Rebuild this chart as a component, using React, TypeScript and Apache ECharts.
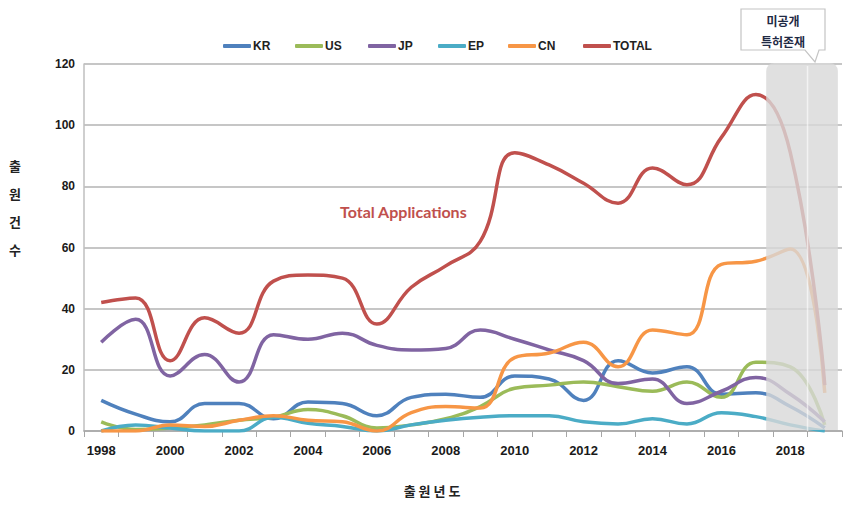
import React, { useEffect, useRef } from "react";
import * as echarts from "echarts";

const years = ["1998","1999","2000","2001","2002","2003","2004","2005","2006","2007","2008","2009","2010","2011","2012","2013","2014","2015","2016","2017","2018","2019"];
const KR = [10, 5.5, 3, 9, 9, 4, 9.5, 9, 5, 11, 12, 11, 18, 17, 10, 23, 19, 21, 12, 12.5, 8, 1];
const US = [3, 0.5, 1, 2, 3.5, 4.5, 7, 5, 1, 2, 4, 8, 14, 15, 16, 14.5, 13, 16, 11, 22.5, 21, 2];
const JP = [29, 36.5, 18, 25, 16, 31.5, 30, 32, 28, 26.5, 27, 33, 30, 26.5, 23, 15.5, 17, 9, 13, 17.5, 12, 3];
const EP = [0, 2, 1, 0, 0, 4.5, 2.5, 1.5, 0, 2, 3.5, 4.5, 5, 5, 3, 2.3, 4, 2.3, 6, 4.7, 2, 0];
const CN = [0, 0, 2, 1.5, 3.5, 5, 3.5, 3, 0, 6, 8, 7.5, 24, 25.5, 29, 21, 33, 31.5, 54.5, 55.5, 59.5, 12.5];
const TOTAL = [42, 43.5, 23, 37, 32, 49, 51, 50, 35, 47, 54, 62, 91, 87, 81, 74.5, 86, 80.5, 96, 110, 91, 15];
const yTicks = { min: 0, max: 120, interval: 20 };

const seriesDefs = [
  { name: "KR", data: KR, color: "#4F81BD" },
  { name: "US", data: US, color: "#9BBB59" },
  { name: "JP", data: JP, color: "#8064A2" },
  { name: "EP", data: EP, color: "#4BACC6" },
  { name: "CN", data: CN, color: "#F79646" },
  { name: "TOTAL", data: TOTAL, color: "#C0504D" },
];
const legendLefts = [218, 290, 363, 433, 503, 578];

const KFONT = "'Noto Sans CJK KR', sans-serif";
const LFONT = "'Liberation Sans', Arial, sans-serif";

export default function App() {
  const ref = useRef<HTMLDivElement>(null);
  useEffect(() => {
    if (!ref.current) return;
    const chart = echarts.init(ref.current, undefined, { renderer: "svg" });
    const option: any = {
      animation: false,
      backgroundColor: "#ffffff",
      legend: seriesDefs.map((s, i) => ({
        left: legendLefts[i],
        top: 35,
        icon: "roundRect",
        itemWidth: 28,
        itemHeight: 4,
        textStyle: { fontFamily: LFONT, fontWeight: "bold", fontSize: 12, color: "#222", padding: [0, 0, 0, -3] },
        data: [s.name],
      })),
      grid: { left: 84, right: 7, top: 64, bottom: 75, containLabel: false },
      xAxis: {
        type: "category",
        data: years,
        boundaryGap: true,
        axisLine: { lineStyle: { color: "#a6a6a6", width: 1.5 } },
        axisTick: { show: true, interval: 0, length: 6, lineStyle: { color: "#a6a6a6" } },
        axisLabel: { interval: 1, fontFamily: LFONT, fontWeight: "bold", fontSize: 13, color: "#1a1a1a", margin: 13 },
      },
      yAxis: {
        type: "value",
        min: yTicks.min,
        max: yTicks.max,
        interval: yTicks.interval,
        axisLine: { show: true, lineStyle: { color: "#bfbfbf", width: 1.5 } },
        axisTick: { show: false },
        splitLine: { lineStyle: { color: "#b3b3b3", width: 1.5 } },
        axisLabel: { fontFamily: LFONT, fontWeight: "bold", fontSize: 12, color: "#1a1a1a", margin: 9 },
      },
      series: seriesDefs.map((s) => ({
        name: s.name,
        type: "line",
        data: s.data,
        smooth: 0.45,
        symbol: "none",
        lineStyle: { color: s.color, width: 3.5 },
        itemStyle: { color: s.color },
        z: s.name === "TOTAL" ? 3 : 2,
      })),
    };
    chart.setOption(option);

    const x18 = chart.convertToPixel({ xAxisIndex: 0 }, "2018") as number;
    const x19 = chart.convertToPixel({ xAxisIndex: 0 }, "2019") as number;
    const step = x19 - x18;
    const yTop = chart.convertToPixel({ yAxisIndex: 0 }, yTicks.max) as number;
    const yBot = chart.convertToPixel({ yAxisIndex: 0 }, yTicks.min) as number;
    const sx0 = x18 - 0.7 * step;
    const sx1 = x19 + 0.38 * step;

    chart.setOption({
      graphic: [
        {
          type: "rect",
          z: 100,
          shape: { x: sx0, y: yTop - 1, width: sx1 - sx0, height: yBot - yTop, r: [8, 8, 0, 0] },
          style: { fill: "rgba(216,216,216,0.8)" },
        },
        {
          type: "line",
          z: 101,
          shape: { x1: x18 + step / 2, y1: yTop + 2, x2: x18 + step / 2, y2: yBot },
          style: { stroke: "rgba(255,255,255,0.6)", lineWidth: 1.5 },
        },
        {
          type: "polygon",
          z: 102,
          shape: {
            points: [[741, 9], [825, 9], [825, 50], [819, 50], [815, 62], [805, 50], [741, 50]],
          },
          style: { fill: "#ffffff", stroke: "#c4c4c4", lineWidth: 1.2 },
        },
        {
          type: "text",
          z: 103,
          x: 783,
          y: 20,
          style: { text: "미공개", fontFamily: KFONT, fontWeight: "bold", fontSize: 12, fill: "#1f2a44", align: "center", verticalAlign: "middle" },
        },
        {
          type: "text",
          z: 103,
          x: 783,
          y: 41,
          style: { text: "특허존재", fontFamily: KFONT, fontWeight: "bold", fontSize: 12, fill: "#1f2a44", align: "center", verticalAlign: "middle" },
        },
        {
          type: "text",
          z: 103,
          x: 340,
          y: 211,
          style: { text: "Total Applications", fontFamily: "Lato, sans-serif", fontWeight: "bold", fontSize: 16, fill: "#C0504D", align: "left", verticalAlign: "middle" },
        },
        {
          type: "text",
          z: 103,
          x: 15,
          y: 207,
          style: { text: "출\n원\n건\n수", fontFamily: KFONT, fontWeight: "bold", fontSize: 13, lineHeight: 28, fill: "#222", align: "center", verticalAlign: "middle" },
        },
        {
          type: "text",
          z: 103,
          x: 432,
          y: 490,
          style: { text: "출 원 년 도", fontFamily: KFONT, fontWeight: "bold", fontSize: 13, fill: "#222", align: "center", verticalAlign: "middle" },
        },
      ],
    });
    return () => chart.dispose();
  }, []);
  return (
    <div
      ref={ref}
      style={{ position: "fixed", left: 0, top: 0, width: 849, height: 506, background: "#fff" }}
    />
  );
}
